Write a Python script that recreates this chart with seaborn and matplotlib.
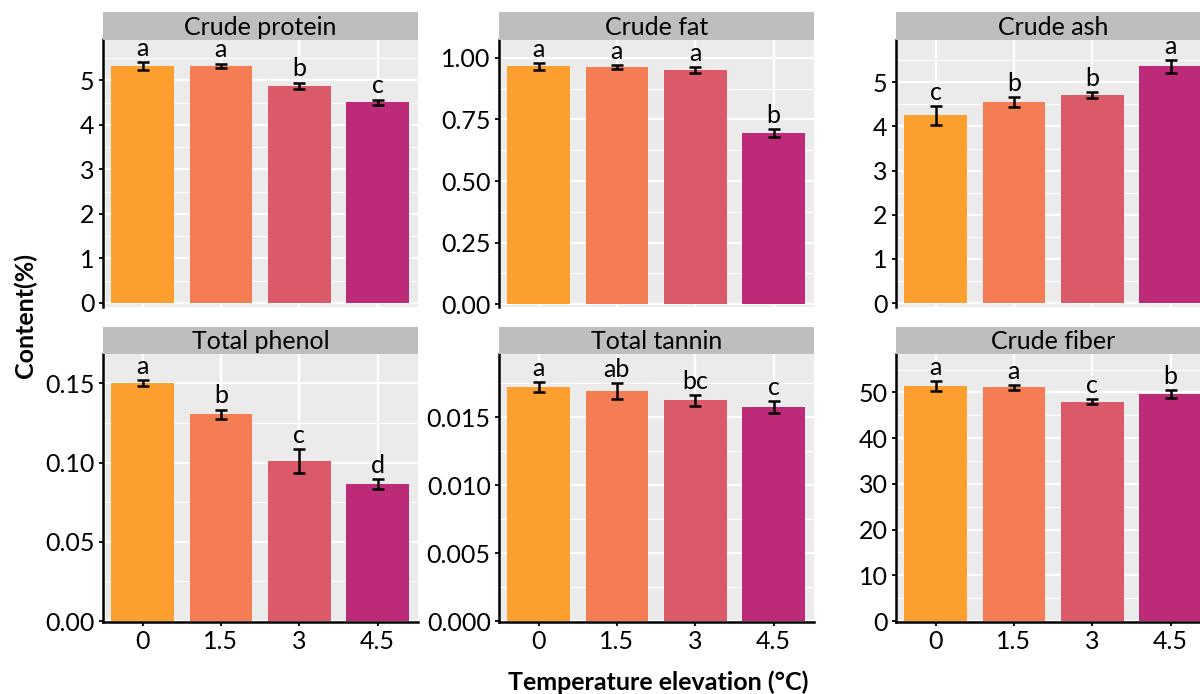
import matplotlib
matplotlib.use("Agg")
import matplotlib.pyplot as plt
import seaborn as sns
import numpy as np
import pandas as pd

# ---- data ----
temps = ["0", "1.5", "3", "4.5"]
colors = ["#FC9F2E", "#F47D53", "#DB5A6A", "#BC2A78"]

titles = ["Crude protein", "Crude fat", "Crude ash",
          "Total phenol", "Total tannin", "Crude fiber"]

protein_mean = [5.32, 5.33, 4.88, 4.51]
protein_se = [0.09, 0.05, 0.07, 0.06]
protein_lab = ["a", "a", "b", "c"]

fat_mean = [0.966, 0.963, 0.950, 0.694]
fat_se = [0.014, 0.007, 0.013, 0.017]
fat_lab = ["a", "a", "a", "b"]

ash_mean = [4.25, 4.56, 4.72, 5.36]
ash_se = [0.21, 0.11, 0.065, 0.145]
ash_lab = ["c", "b", "b", "a"]

phenol_mean = [0.1502, 0.1304, 0.1010, 0.0864]
phenol_se = [0.0020, 0.0030, 0.0077, 0.0033]
phenol_lab = ["a", "b", "c", "d"]

tannin_mean = [0.01720, 0.01691, 0.01625, 0.01577]
tannin_se = [0.00037, 0.00059, 0.00040, 0.00042]
tannin_lab = ["a", "ab", "bc", "c"]

fiber_mean = [51.45, 51.1, 48.0, 49.6]
fiber_se = [1.05, 0.5, 0.58, 0.87]
fiber_lab = ["a", "a", "c", "b"]

means = [protein_mean, fat_mean, ash_mean, phenol_mean, tannin_mean, fiber_mean]
ses = [protein_se, fat_se, ash_se, phenol_se, tannin_se, fiber_se]
labs = [protein_lab, fat_lab, ash_lab, phenol_lab, tannin_lab, fiber_lab]

ylims = [(-0.09, 5.92), (-0.012, 1.075), (-0.09, 5.97),
         (-0.0006, 0.1685), (-0.00007, 0.01966), (-0.2, 58.4)]
major_steps = [1, 0.25, 1, 0.05, 0.005, 10]
tick_fmt = ["{:.0f}", "{:.2f}", "{:.0f}", "{:.2f}", "{:.3f}", "{:.0f}"]

# ---- figure ----
W, H = 1200, 694
fig = plt.figure(figsize=(W / 100, H / 100), dpi=100)
plt.rcParams['font.family'] = ['Lato', 'DejaVu Sans']
FS = 18

col_left = [103, 499, 896]
panel_w = 315
row_top = [39.5, 354]
row_bot = [307, 622]
strip_h = 27.5

panel_bg = "#EBEBEB"
strip_bg = "#BEBEBE"

for k in range(6):
    r, c = divmod(k, 3)
    x0 = col_left[c] / W
    y0 = 1 - row_bot[r] / H
    h = (row_bot[r] - row_top[r]) / H
    ax = fig.add_axes([x0, y0, panel_w / W, h])
    ax.set_facecolor(panel_bg)
    ax.set_axisbelow(True)

    df = pd.DataFrame({"temp": temps, "val": means[k]})
    sns.barplot(data=df, x="temp", y="val", hue="temp", order=temps,
                hue_order=temps, palette=colors, width=0.8, legend=False,
                ax=ax, linewidth=0, saturation=1, errorbar=None)
    ax.errorbar(np.arange(4), means[k], yerr=ses[k], fmt="none",
                ecolor="black", elinewidth=1.8, capsize=4, capthick=1.8,
                zorder=5)
    for i in range(4):
        ax.annotate(labs[k][i], (i, means[k][i] + ses[k][i]),
                    xytext=(0, 4.5), textcoords="offset points",
                    ha="center", va="baseline", fontsize=FS, color="black")

    ax.set_xlim(-0.505, 3.515)
    lo, hi = ylims[k]
    ax.set_ylim(lo, hi)
    st = major_steps[k]
    majors = np.arange(0, hi + 1e-12, st)
    minors = np.arange(st / 2, hi + 1e-12, st)
    ax.set_yticks(majors)
    ax.set_yticklabels([tick_fmt[k].format(v) for v in majors])
    ax.set_yticks(minors, minor=True)
    ax.set_xticks(range(4))
    ax.grid(which="major", axis="both", color="white", linewidth=1.6)
    ax.grid(which="minor", axis="y", color="white", linewidth=0.8)

    for s in ["top", "right"]:
        ax.spines[s].set_visible(False)
    ax.spines["left"].set_color("black")
    ax.spines["left"].set_linewidth(1.8)
    ax.tick_params(axis="y", which="major", length=3, width=1.3,
                   color="black", labelsize=FS, pad=3, labelcolor="black")
    ax.tick_params(axis="y", which="minor", length=0)
    if r == 1:
        ax.spines["bottom"].set_color("black")
        ax.spines["bottom"].set_linewidth(1.8)
        ax.set_xticklabels(temps)
        ax.tick_params(axis="x", length=3, width=1.3, color="black",
                       labelsize=FS, pad=3, labelcolor="black")
    else:
        ax.spines["bottom"].set_visible(False)
        ax.tick_params(axis="x", length=0, labelbottom=False)
    ax.set_xlabel("")
    ax.set_ylabel("")

    # strip
    sax = fig.add_axes([x0, 1 - row_top[r] / H, panel_w / W, strip_h / H])
    sax.set_facecolor(strip_bg)
    sax.set_xticks([])
    sax.set_yticks([])
    for s in sax.spines.values():
        s.set_visible(False)
    sax.text(0.5, 0.45, titles[k], ha="center", va="center",
             fontsize=FS, color="black", transform=sax.transAxes)

fig.text(0.021, 0.545, "Content(%)", rotation=90, ha="center", va="center",
         fontsize=FS, fontweight="bold")
fig.text(658 / W, 1 - 682 / H, "Temperature elevation (°C)", ha="center",
         va="center", fontsize=FS, fontweight="bold")

fig.savefig("out.png", dpi=100, facecolor="white")
